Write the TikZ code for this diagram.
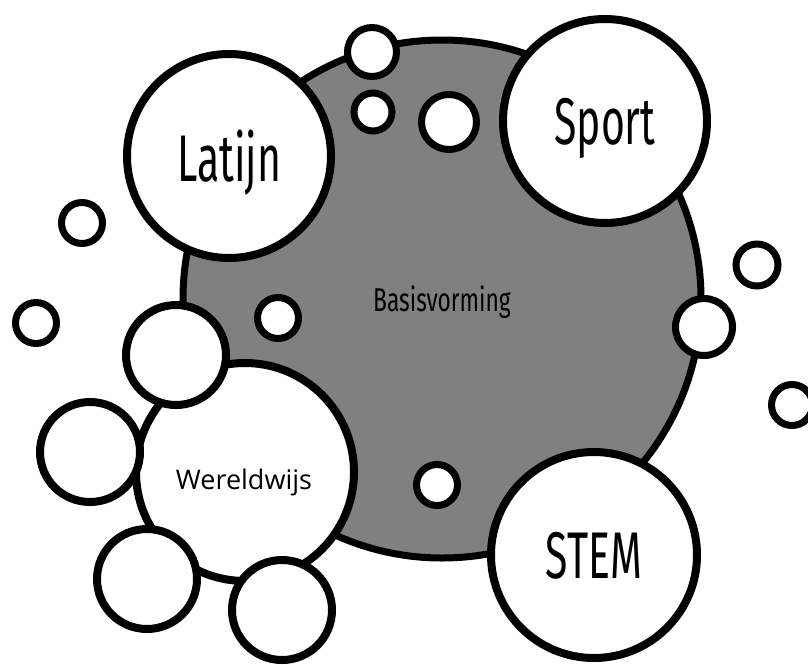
\documentclass[tikz,border=0pt]{standalone}
\usepackage{fontspec}
\usetikzlibrary{shadows}

\newfontfamily\agency{Fira Sans}
\newfontfamily\segoe{Open Sans}
\newcommand{\slim}[2][0.62]{\scalebox{#1}[1]{#2}}

\tikzset{
  bubble/.style={circle, draw=black, fill=white, line width=8pt, inner sep=0pt,
    text depth=0pt, drop shadow={opacity=0.3, shadow xshift=2pt, shadow yshift=-2pt}},
  dot/.style={bubble, line width=7pt},
  bigfont/.style={font=\agency\fontsize{66pt}{66pt}\selectfont}
}

\begin{document}
\begin{tikzpicture}[x=1pt, y=-1pt]
\useasboundingbox (0,0) rectangle (808,664);

% the core
\node[bubble, fill=gray, line width=7pt, minimum size=518pt,
  font=\agency\fontsize{33pt}{33pt}\selectfont] (basis) at (442,299) {\slim[0.69]{Basisvorming}};

% loose dots
\foreach \x/\y/\d [count=\i] in {372/52/49, 373/112/38, 449/122/55, 82/223/41,
    36/323/41, 278/318/41, 704/327/57, 757/265/42, 792/405/41, 437/485/41}
  {
  \node[dot, minimum size=\d pt] (dot\i) at (\x,\y) {};
  }

% options
\node[bubble, bigfont, minimum size=204pt] (latijn) at (229,156) {\slim{Latijn}};
\node[bubble, bigfont, minimum size=204pt] (sport) at (605,121) {\slim{Sport}};
\node[bubble, bigfont, minimum size=206pt] (stem) at (594,555) {\slim{STEM}};

% wereldwijs with its satellites
\node[bubble, minimum size=218pt] (wereld) at (245,472) {};
\node[font=\segoe\fontsize{27pt}{27pt}\selectfont, text depth=0pt] (wereldtxt) at (244,479) {Wereldwijs};
\foreach \x/\y [count=\i] in {176/355, 90/452, 147/579, 282/610}
  {
  \node[bubble, minimum size=100pt] (sat\i) at (\x,\y) {};
  }

\end{tikzpicture}
\end{document}
